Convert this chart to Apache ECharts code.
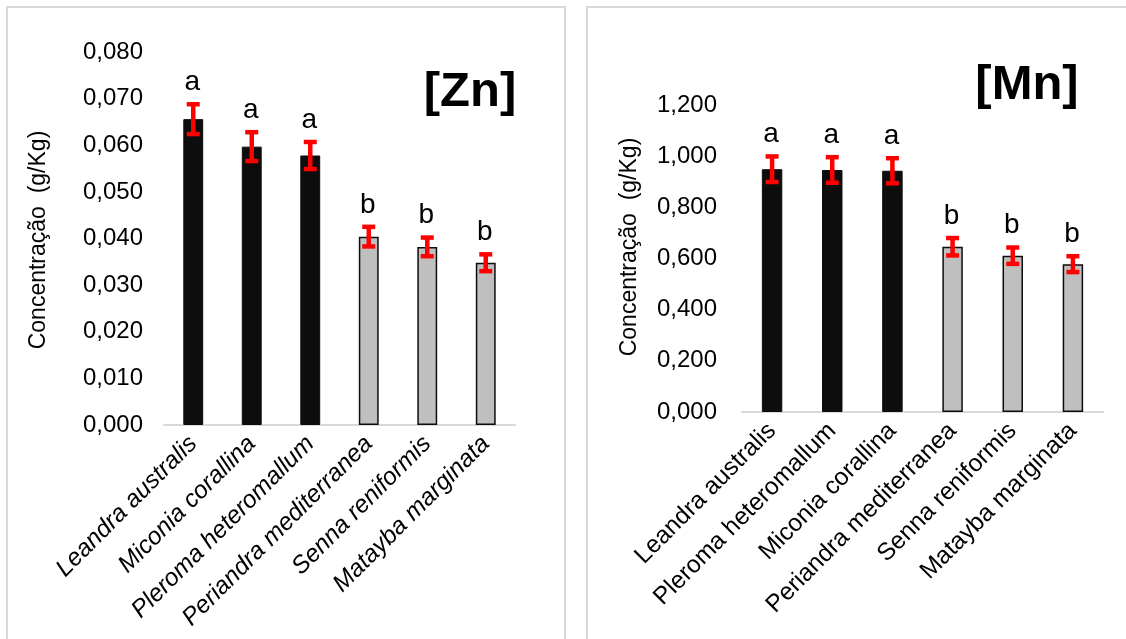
<!DOCTYPE html>
<html>
<head>
<meta charset="utf-8">
<script src="https://cdn.jsdelivr.net/npm/echarts@6/dist/echarts.min.js"></script>
<style>
html,body{margin:0;padding:0;background:#fff;}
#c{width:1126px;height:639px;}
</style>
</head>
<body>
<div id="c"></div>
<script>
// ---- data ----
const znCategories = ['Leandra australis','Miconia corallina','Pleroma heteromallum','Periandra mediterranea','Senna reniformis','Matayba marginata'];
const znValues = [0.0656, 0.0597, 0.0578, 0.0404, 0.0382, 0.0348];
const znErrors = [0.0032, 0.0031, 0.0029, 0.0021, 0.0020, 0.0018];
const znLetters = ['a','a','a','b','b','b'];
const znTicks = {min: 0, max: 0.08, interval: 0.01};

const mnCategories = ['Leandra australis','Pleroma heteromallum','Miconia corallina','Periandra mediterranea','Senna reniformis','Matayba marginata'];
const mnValues = [0.949, 0.946, 0.943, 0.646, 0.611, 0.578];
const mnErrors = [0.050, 0.050, 0.049, 0.034, 0.032, 0.031];
const mnLetters = ['a','a','a','b','b','b'];
const mnTicks = {min: 0, max: 1.2, interval: 0.2};

const yTitle = 'Concentração  (g/Kg)';
const titles = ['[Zn]', '[Mn]'];

// ---- styling ----
const FONT = '"Liberation Sans", Arial, Helvetica, sans-serif';
const DARK = '#0d0d0d';
const GRAY = '#bfbfbf';
const RED = '#ff0000';

function fmt(v){ return v.toFixed(3).replace('.', ','); }

function barData(values, letters){
  return values.map((v,i)=>({
    value: v,
    itemStyle: letters[i]==='a'
      ? {color: DARK, borderColor: DARK, borderWidth: 1}
      : {color: GRAY, borderColor: DARK, borderWidth: 1.5}
  }));
}

function errData(values, errors, letters){
  return values.map((v,i)=>[i, v, errors[i]]);
}

function makeRender(letters){
  return function(params, api){
    const i = api.value(0), v = api.value(1), e = api.value(2);
    const top = api.coord([i, v + e]);
    const bot = api.coord([i, v - e]);
    const hw = 6.5;
    const st = {stroke: RED, lineWidth: 4.5};
    return {
      type: 'group',
      children: [
        {type:'line', shape:{x1:top[0], y1:top[1], x2:bot[0], y2:bot[1]}, style: st},
        {type:'line', shape:{x1:top[0]-hw, y1:top[1], x2:top[0]+hw, y2:top[1]}, style: st},
        {type:'line', shape:{x1:bot[0]-hw, y1:bot[1], x2:bot[0]+hw, y2:bot[1]}, style: st},
        {type:'text', x: top[0] - 1, y: top[1] - 8,
          style:{text: letters[params.dataIndex], fill:'#000', font:'28px ' + FONT,
                 align:'center', verticalAlign:'bottom', textAlign:'center', textVerticalAlign:'bottom'}}
      ]
    };
  };
}

function xAxisCfg(idx, cats, italic){
  return {
    type: 'category', gridIndex: idx, data: cats,
    axisLine: {show: true, lineStyle: {color: '#d9d9d9', width: 2}},
    axisTick: {show: false},
    axisLabel: {interval: 0, rotate: 45, margin: 15, color: '#000',
      fontSize: 24.5, fontFamily: FONT, fontStyle: italic ? 'italic' : 'normal'}
  };
}
function yAxisCfg(idx, t, margin){
  return {
    type: 'value', gridIndex: idx, min: t.min, max: t.max, interval: t.interval,
    axisLine: {show: false}, axisTick: {show: false}, splitLine: {show: false},
    axisLabel: {formatter: fmt, color: '#000', fontSize: 24, fontFamily: FONT, margin: margin}
  };
}

const chart = echarts.init(document.getElementById('c'), null, {renderer: 'canvas'});
chart.setOption({
  backgroundColor: '#fff',
  animation: false,
  grid: [
    {left: 164, top: 52, width: 351, height: 373},
    {left: 742, top: 105, width: 361, height: 307}
  ],
  xAxis: [xAxisCfg(0, znCategories, true), xAxisCfg(1, mnCategories, false)],
  yAxis: [yAxisCfg(0, znTicks, 21), yAxisCfg(1, mnTicks, 25)],
  series: [
    {type:'bar', xAxisIndex:0, yAxisIndex:0, barWidth:'34%', data: barData(znValues, znLetters)},
    {type:'custom', xAxisIndex:0, yAxisIndex:0, z: 5, renderItem: makeRender(znLetters),
      encode:{x:0, y:1}, data: errData(znValues, znErrors, znLetters)},
    {type:'bar', xAxisIndex:1, yAxisIndex:1, barWidth:'34%', data: barData(mnValues, mnLetters)},
    {type:'custom', xAxisIndex:1, yAxisIndex:1, z: 5, renderItem: makeRender(mnLetters),
      encode:{x:0, y:1}, data: errData(mnValues, mnErrors, mnLetters)}
  ],
  graphic: [
    {type:'rect', shape:{x:7, y:7, width:558, height:660}, style:{fill:'none', stroke:'#d9d9d9', lineWidth:2}, silent:true},
    {type:'rect', shape:{x:587, y:7, width:560, height:660}, style:{fill:'none', stroke:'#d9d9d9', lineWidth:2}, silent:true},
    {type:'text', x:470, y:92, style:{text: titles[0], font:'bold 49px ' + FONT, fill:'#000',
      align:'center', verticalAlign:'middle', textAlign:'center', textVerticalAlign:'middle'}},
    {type:'text', x:1027, y:85, style:{text: titles[1], font:'bold 49px ' + FONT, fill:'#000',
      align:'center', verticalAlign:'middle', textAlign:'center', textVerticalAlign:'middle'}},
    {type:'text', x:39, y:240, rotation: Math.PI/2, style:{text: yTitle, font:'23px ' + FONT, fill:'#000',
      align:'center', verticalAlign:'middle', textAlign:'center', textVerticalAlign:'middle'}},
    {type:'text', x:630, y:247, rotation: Math.PI/2, style:{text: yTitle, font:'23px ' + FONT, fill:'#000',
      align:'center', verticalAlign:'middle', textAlign:'center', textVerticalAlign:'middle'}}
  ]
});
</script>
</body>
</html>
